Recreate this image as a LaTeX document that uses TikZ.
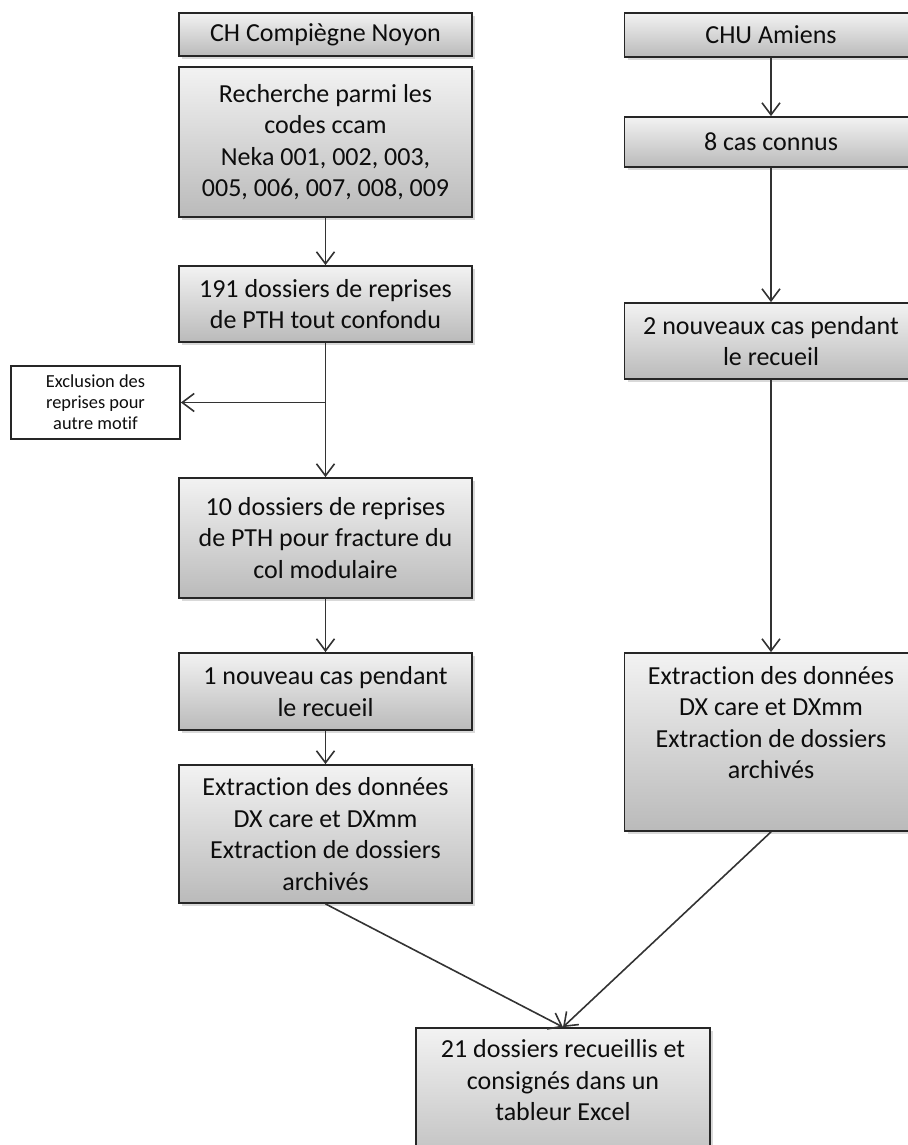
\documentclass[tikz,border=0pt]{standalone}
\usepackage{fontspec}
\setmainfont{Carlito}[Ligatures=NoCommon]
\usetikzlibrary{shadows,arrows.meta}
\begin{document}
\begin{tikzpicture}[x=0.5pt,y=-0.5pt,
  box/.style={draw=black!85, line width=0.9pt, top color=black!5, bottom color=black!27,
    minimum width=146.5pt, align=center, inner sep=2pt, text=black!95,
    font=\fontsize{13}{15.75}\selectfont,
    drop shadow={shadow xshift=1.5pt, shadow yshift=-1.5pt, opacity=0.3}},
  small/.style={draw=black!85, line width=0.9pt, fill=white, align=center,
    minimum width=84.5pt, minimum height=36.5pt, inner sep=1pt,
    font=\fontsize{9.2}{10.5}\selectfont, text=black!95},
  arr/.style={draw=black!80, line width=0.8pt, -{Straight Barb[length=6pt,width=9pt]}}]
\useasboundingbox (0,0) rectangle (907,1145);
\node[box, minimum height=21.5pt] (ch) at (325.5,34.5) {CH Compiègne Noyon};
\node[box, minimum height=75pt] (rech) at (325.5,142) {Recherche parmi les\\codes ccam\\Neka 001, 002, 003,\\005, 006, 007, 008, 009};
\node[box, minimum height=38pt] (d191) at (325.5,304) {191 dossiers de reprises\\de PTH tout confondu};
\node[small] (excl) at (95.5,402.5) {Exclusion des\\reprises pour\\autre motif};
\node[box, minimum height=60pt] (d10) at (325.5,538) {10 dossiers de reprises\\de PTH pour fracture du\\col modulaire};
\node[box, minimum height=38.5pt] (n1) at (325.5,691.5) {1 nouveau cas pendant\\le recueil};
\node[box, minimum height=69pt] (extL) at (325.5,834) {Extraction des données\\DX care et DXmm\\Extraction de dossiers\\archivés};
\node[box, minimum height=22pt] (chu) at (771,35) {CHU Amiens};
\node[box, minimum height=25pt] (cas8) at (771,142) {8 cas connus};
\node[box, minimum height=38pt] (n2) at (771,341) {2 nouveaux cas pendant\\le recueil};
\node[box, minimum height=89pt, text depth=19.5pt] (extR) at (771,742) {Extraction des données\\DX care et DXmm\\Extraction de dossiers\\archivés};
\node[box, minimum width=147pt, minimum height=75pt, text depth=23pt] (fin) at (563,1103) {21 dossiers recueillis et\\consignés dans un\\tableur Excel};
\draw[arr] (rech.south) -- (d191.north);
\draw[arr] (d191.south) -- (d10.north);
\coordinate (br) at (d191.south |- excl.east);
\draw[arr] (br) -- (excl.east);
\draw[arr] (d10.south) -- (n1.north);
\draw[arr] (n1.south) -- (extL.north);
\draw[arr] (chu.south) -- (cas8.north);
\draw[arr] (cas8.south) -- (n2.north);
\draw[arr] (n2.south) -- (extR.north);
\draw[arr] (extL.south) -- (fin.north);
\draw[arr] (extR.south) -- (fin.north);
\end{tikzpicture}
\end{document}
